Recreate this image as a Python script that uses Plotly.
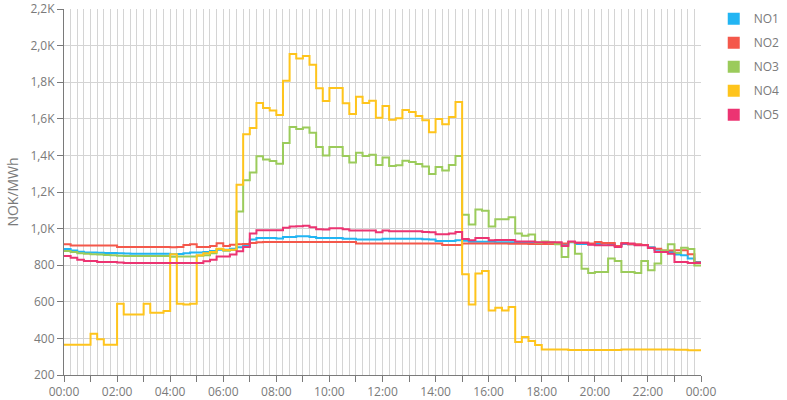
import plotly.graph_objects as go

# 15-minute intervals, 96 per day
series_names = ["NO1", "NO2", "NO3", "NO4", "NO5"]
series_colors = ["#22b5f3", "#f4584b", "#9bcb5b", "#fec41c", "#ec3472"]

NO1 = [888, 880, 873, 870, 869, 868, 867, 866, 865, 864, 863, 863,
       863, 862, 862, 862, 860, 861, 865, 869, 870, 872, 877, 884,
       884, 890, 898, 905, 941, 948, 948, 948, 946, 954, 954, 958,
       958, 954, 948, 948, 948, 948, 945, 945, 941, 941, 941, 941,
       944, 944, 944, 944, 944, 944, 942, 940, 932, 932, 932, 936,
       934, 928, 928, 928, 928, 926, 926, 926, 924, 924, 924, 922,
       922, 922, 920, 912, 925, 916, 916, 914, 916, 918, 916, 905,
       916, 914, 912, 910, 898, 885, 874, 872, 858, 855, 836, 818]

NO2 = [915, 907, 907, 907, 907, 907, 907, 907, 900, 900, 900, 900,
       900, 900, 900, 900, 898, 900, 910, 915, 900, 900, 905, 920,
       905, 912, 914, 916, 921, 925, 927, 927, 927, 927, 927, 927,
       927, 927, 927, 927, 927, 927, 927, 927, 918, 918, 918, 918,
       918, 918, 918, 918, 918, 918, 918, 918, 918, 910, 910, 910,
       918, 918, 918, 918, 918, 918, 918, 917, 917, 917, 916, 916,
       916, 916, 916, 918, 927, 923, 923, 918, 927, 921, 921, 905,
       921, 914, 914, 910, 895, 890, 880, 880, 882, 882, 860, 815]

NO3 = [878, 872, 865, 862, 860, 858, 856, 855, 852, 850, 850, 850,
       850, 850, 850, 850, 846, 847, 847, 847, 852, 855, 865, 888,
       879, 883, 1093, 1264, 1306, 1395, 1377, 1369, 1355, 1468, 1555, 1544,
       1553, 1524, 1446, 1400, 1446, 1446, 1397, 1361, 1415, 1397, 1404, 1347,
       1388, 1342, 1346, 1371, 1364, 1353, 1340, 1298, 1337, 1318, 1347, 1397,
       1076, 1022, 1105, 1098, 1012, 1051, 1051, 1062, 973, 961, 968, 923,
       930, 924, 914, 845, 927, 863, 781, 757, 763, 763, 836, 823,
       763, 763, 757, 823, 772, 809, 881, 914, 867, 896, 888, 798]

NO4 = [365, 365, 365, 365, 425, 395, 365, 365, 590, 530, 530, 530,
       590, 540, 540, 550, 860, 590, 585, 590, 855, 865, 872, 890,
       883, 885, 1240, 1515, 1550, 1686, 1659, 1646, 1621, 1808, 1954, 1929,
       1943, 1896, 1767, 1697, 1768, 1768, 1685, 1626, 1721, 1686, 1699, 1606,
       1670, 1595, 1603, 1648, 1637, 1615, 1592, 1526, 1599, 1570, 1610, 1692,
       750, 585, 754, 768, 552, 568, 552, 572, 380, 408, 386, 364,
       340, 340, 340, 340, 336, 336, 336, 336, 337, 337, 337, 337,
       340, 340, 340, 340, 340, 340, 340, 340, 338, 338, 335, 335]

NO5 = [850, 841, 830, 823, 823, 818, 818, 818, 815, 812, 812, 812,
       812, 812, 812, 812, 812, 812, 812, 812, 812, 821, 830, 848,
       848, 858, 876, 899, 973, 991, 991, 991, 991, 1005, 1012, 1013,
       1016, 1008, 997, 995, 1002, 1002, 997, 990, 989, 989, 989, 980,
       990, 986, 986, 986, 986, 985, 982, 980, 969, 969, 973, 982,
       943, 936, 948, 948, 936, 938, 938, 938, 930, 930, 930, 925,
       925, 925, 925, 905, 929, 923, 923, 912, 909, 909, 909, 900,
       918, 918, 909, 909, 894, 872, 872, 863, 817, 817, 812, 812]

series_values = [NO1, NO2, NO3, NO4, NO5]

hours = [i * 0.25 for i in range(96)] + [24]
x_tick_hours = list(range(0, 25))
x_tick_labels = [f"{h % 24:02d}:00" if h % 2 == 0 else "" for h in x_tick_hours]
y_tick_vals = [200, 400, 600, 800, 1000, 1200, 1400, 1600, 1800, 2000, 2200]
y_tick_labels = ["200", "400", "600", "800", "1,0K", "1,2K", "1,4K", "1,6K", "1,8K", "2,0K", "2,2K"]

FONT = "Open Sans"
GRID = "#d4d4d4"
AXIS = "#7a7a7a"
TEXT = "#7a7a7a"

fig = go.Figure()
for name, color, vals in zip(series_names, series_colors, series_values):
    fig.add_trace(go.Scatter(
        x=hours, y=vals + [vals[-1]], mode="lines", line_shape="hv",
        line=dict(color=color, width=2), name=name, showlegend=False,
        hoverinfo="skip"))
for name, color in zip(series_names, series_colors):
    fig.add_trace(go.Scatter(
        x=[None], y=[None], mode="markers", name=name, legendgroup=name,
        marker=dict(symbol="square", size=12, color=color), showlegend=True))

fig.update_layout(
    width=787, height=400,
    margin=dict(l=64, r=86, t=9, b=25, autoexpand=False),
    paper_bgcolor="white", plot_bgcolor="white",
    font=dict(family=FONT, size=12, color=TEXT),
    legend=dict(x=1.02, xanchor="left", y=1.013, yanchor="top",
                xref="paper", yref="paper",
                font=dict(family=FONT, size=12, color=TEXT),
                tracegroupgap=5, itemwidth=30,
                bgcolor="rgba(0,0,0,0)", borderwidth=0),
    showlegend=True,
)
fig.update_xaxes(
    range=[0, 24], tickmode="array", tickvals=x_tick_hours, ticktext=x_tick_labels,
    showgrid=True, gridcolor=GRID, gridwidth=1,
    minor=dict(tick0=0, dtick=0.25, showgrid=True, gridcolor=GRID, gridwidth=1, ticks=""),
    showline=True, linecolor=AXIS, linewidth=1,
    ticks="outside", ticklen=6, tickcolor=AXIS, automargin=False,
    tickfont=dict(family=FONT, size=12, color=TEXT), zeroline=False,
)
fig.update_yaxes(
    range=[200, 2200], tickmode="array", tickvals=y_tick_vals, ticktext=y_tick_labels,
    showgrid=True, gridcolor=GRID, gridwidth=1,
    showline=True, linecolor=AXIS, linewidth=1,
    ticks="outside", ticklen=6, tickcolor=AXIS, automargin=False,
    tickfont=dict(family=FONT, size=12, color=TEXT), zeroline=False,
    title=dict(text="NOK/MWh", font=dict(family=FONT, size=14, color=TEXT), standoff=8),
)

fig.write_html("out.html", config={"displayModeBar": False},
               post_script="document.body.style.margin='0px';document.body.style.padding='0px';")
